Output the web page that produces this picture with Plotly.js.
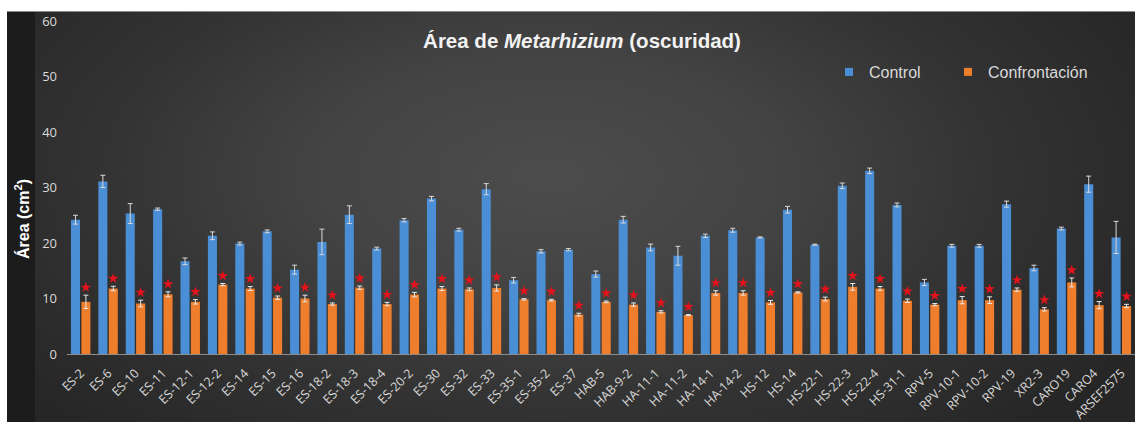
<!DOCTYPE html>
<html>
<head>
<meta charset="utf-8">
<script src="https://cdn.plot.ly/plotly-3.0.1.min.js"></script>
<style>
  html, body { margin: 0; padding: 0; background: #ffffff; width: 1135px; height: 422px; overflow: hidden; }
  #chart {
    position: absolute; left: 7px; top: 11px; width: 1128px; height: 411px;
    border-top: 1px solid #8a8a8a; box-sizing: border-box;
    background:
      linear-gradient(to right, #1c1c1c 0px, #1c1c1c 28px, rgba(0,0,0,0) 28px),
      radial-gradient(ellipse 60% 85% at 48% 40%, #4c4c4c 0%, #434343 35%, #333333 65%, #262626 100%);
  }
</style>
</head>
<body>
<div id="chart"></div>
<script>
const categories = ["ES-2","ES-6","ES-10","ES-11","ES-12-1","ES-12-2","ES-14","ES-15","ES-16","ES-18-2",
  "ES-18-3","ES-18-4","ES-20-2","ES-30","ES-32","ES-33","ES-35-1","ES-35-2","ES-37","HAB-5",
  "HAB-9-2","HA-11-1","HA-11-2","HA-14-1","HA-14-2","HS-12","HS-14","HS-22-1","HS-22-3","HS-22-4",
  "HS-31-1","RPV-5","RPV-10-1","RPV-10-2","RPV-19","XR2-3","CARO19","CARO4","ARSEF2575"];

const control = [24.2,31.1,25.3,26.1,16.7,21.3,19.9,22.1,15.2,20.2,
  25.1,19.0,24.1,28.0,22.4,29.7,13.3,18.5,18.8,14.4,
  24.2,19.2,17.7,21.3,22.3,21.0,26.0,19.7,30.3,33.0,
  26.85,12.9,19.5,19.5,27.0,15.5,22.6,30.6,21.0];
const controlErr = [0.8,1.1,1.8,0.2,0.6,0.7,0.25,0.25,0.8,2.3,
  1.6,0.25,0.3,0.4,0.25,1.0,0.5,0.3,0.2,0.55,
  0.6,0.6,1.7,0.3,0.35,0.1,0.6,0.1,0.5,0.5,
  0.35,0.55,0.25,0.25,0.55,0.5,0.25,1.45,2.9];

const confront = [9.4,11.8,9.1,10.75,9.4,12.5,11.8,10.15,10.0,9.0,
  11.95,9.0,10.7,11.8,11.65,11.9,9.85,9.7,7.1,9.4,
  8.9,7.6,7.0,11.0,11.0,9.3,11.1,9.9,12.1,11.8,
  9.6,8.9,9.7,9.7,11.6,8.05,12.9,8.8,8.65];
const confrontErr = [1.2,0.4,0.6,0.45,0.4,0.2,0.35,0.3,0.6,0.2,
  0.3,0.3,0.4,0.35,0.25,0.55,0.12,0.15,0.25,0.15,
  0.3,0.2,0.1,0.4,0.4,0.35,0.1,0.35,0.6,0.35,
  0.3,0.2,0.65,0.6,0.3,0.3,0.8,0.65,0.3];

const yTicks = [0,10,20,30,40,50,60];

const idx = categories.map((_, i) => i);
const BARGAP = 0.24, GROUPGAP = 0.13;
const slot = (1 - BARGAP) / 2;
const orangeShift = slot / 2;
const starLift = 1.4;

const traces = [
  {
    type: 'bar', name: 'Control', x: idx, y: control, showlegend: false,
    marker: { color: '#4a8ed6' },
    error_y: { type: 'data', array: controlErr, visible: true, color: '#d8d8d8', thickness: 1, width: 2.5 },
    hoverinfo: 'y'
  },
  {
    type: 'bar', name: 'Confrontación', x: idx, y: confront, showlegend: false,
    marker: { color: '#ef7e2c' },
    error_y: { type: 'data', array: confrontErr, visible: true, color: '#e8e8e8', thickness: 1, width: 2.5 },
    hoverinfo: 'y'
  },
  {
    type: 'scatter', mode: 'markers', showlegend: false, hoverinfo: 'skip',
    x: idx.map(i => i + orangeShift),
    y: confront.map((v, i) => v + confrontErr[i] + starLift),
    marker: { symbol: 'star', size: 8, color: '#e3121b', line: { width: 0 } }
  },
  {
    type: 'scatter', mode: 'markers', name: 'Control', x: [null], y: [null],
    marker: { symbol: 'square', size: 8, color: '#4a8ed6' }, legend: 'legend'
  },
  {
    type: 'scatter', mode: 'markers', name: 'Confrontación', x: [null], y: [null],
    marker: { symbol: 'square', size: 8, color: '#ef7e2c' }, legend: 'legend2'
  }
];

const legendFont = { family: 'Liberation Sans, Arial, sans-serif', size: 16, color: '#d9d9d9' };

const layout = {
  width: 1128, height: 411,
  margin: { l: 60, r: 0, t: 9, b: 69, autoexpand: false },
  paper_bgcolor: 'rgba(0,0,0,0)',
  plot_bgcolor: 'rgba(0,0,0,0)',
  barmode: 'group', bargap: BARGAP, bargroupgap: GROUPGAP,
  font: { family: 'Liberation Sans, Arial, sans-serif', color: '#d9d9d9' },
  title: {
    text: 'Área de <i>Metarhizium</i> (oscuridad)',
    font: { family: 'Liberation Sans, Arial, sans-serif', size: 20.5, color: '#f2f2f2', weight: 'bold' },
    x: 575 / 1128, xanchor: 'center', xref: 'container',
    y: 1 - 29 / 411, yanchor: 'middle', yref: 'container'
  },
  xaxis: {
    type: 'linear', range: [-0.5, categories.length - 0.5],
    tickmode: 'array', tickvals: idx, ticktext: categories,
    tickangle: -45, tickfont: { family: 'Open Sans, sans-serif', size: 12.5, color: '#d9d9d9' },
    ticklabelstandoff: 6,
    showgrid: false, zeroline: false, showline: true, linecolor: '#8c8c8c', linewidth: 1,
    ticks: '', fixedrange: true, automargin: false
  },
  yaxis: {
    range: [0, 60.001], tickmode: 'array', tickvals: yTicks,
    tickfont: { family: 'Open Sans, sans-serif', size: 13, color: '#d9d9d9' },
    showgrid: false, zeroline: false, showline: false, ticks: '',
    ticklabelstandoff: 9, ticklabeloverflow: 'allow', fixedrange: true, automargin: false
  },
  legend: {
    orientation: 'h', x: 822 / 1128, xanchor: 'left', xref: 'container',
    y: 1 - 60 / 411, yanchor: 'middle', yref: 'container',
    font: legendFont, bgcolor: 'rgba(0,0,0,0)'
  },
  legend2: {
    orientation: 'h', x: 941 / 1128, xanchor: 'left', xref: 'container',
    y: 1 - 60 / 411, yanchor: 'middle', yref: 'container',
    font: legendFont, bgcolor: 'rgba(0,0,0,0)'
  },
  annotations: [{
    text: 'Área (cm<sup>2</sup>)', textangle: -90,
    xref: 'paper', yref: 'paper',
    x: (15 - 60) / 1068, y: (342 - 207) / 333,
    xanchor: 'center', yanchor: 'middle', showarrow: false,
    font: { family: 'Liberation Sans, Arial, sans-serif', size: 16, color: '#ffffff', weight: 'bold' }
  }],
  showlegend: true
};

Plotly.newPlot('chart', traces, layout, { displayModeBar: false, staticPlot: true });
</script>
</body>
</html>
